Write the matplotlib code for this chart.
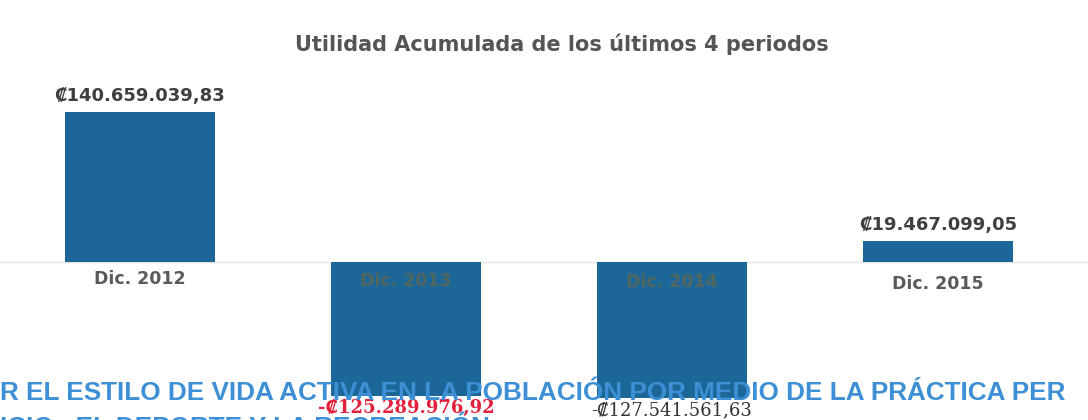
import matplotlib.pyplot as plt

# data (colones)
periodos = ["Dic. 2012", "Dic. 2013", "Dic. 2014", "Dic. 2015"]
utilidad = [140659039.83, -125289976.92, -127541561.63, 19467099.05]
etiquetas = ["₡140.659.039,83", "-₡125.289.976,92", "-₡127.541.561,63", "₡19.467.099,05"]

titulo = "Utilidad Acumulada de los últimos 4 periodos"
texto_pie = "R EL ESTILO DE VIDA ACTIVA EN LA POBLACIÓN POR MEDIO DE LA PRÁCTICA PER"
texto_pie2 = "ICIO,  EL DEPORTE Y LA RECREACIÓN"

bar_color = "#1c6797"

fig = plt.figure(figsize=(10.88, 4.2), dpi=100)
ax = fig.add_axes([0, 0, 1, 1])
vals = [v / 1e6 for v in utilidad]
x = list(range(len(periodos)))
ax.bar(x, vals, width=0.565, color=bar_color, zorder=2)
ax.axhline(0, color="#e6e6e6", lw=1, zorder=1)
ax.set_xlim(-0.526, 3.564)
ax.set_ylim(-148.2, 245.8)
ax.axis("off")

# value labels
for i, v in enumerate(vals):
    if v >= 0:
        ax.text(i, v + 15.5, etiquetas[i], ha="center", va="center",
                fontsize=13, fontweight="bold", color="#3f3f3f",
                family="DejaVu Sans")
    else:
        col = "#e3203b" if i == 1 else "#333333"
        ax.text(i, v - 11.5, etiquetas[i], ha="center", va="center",
                fontsize=13, fontweight="bold" if i == 1 else "normal",
                color=col, family=["DejaVu Serif", "DejaVu Sans"], zorder=4)

# category labels just below zero
for i, p in enumerate(periodos):
    inside = vals[i] < 0
    ax.text(i, -16 - 1.5 * i, p, ha="center", va="center", fontsize=12.5,
            fontweight="bold", color="#5f6650" if inside else "#5a5a5a",
            family="DejaVu Sans", zorder=3, alpha=0.8 if inside else 1)

fig.text(0.5165, 0.895, titulo, ha="center", va="center", fontsize=15,
         fontweight="bold", color="#555555", family="DejaVu Sans")

# overlaid text from the scanned page
pie_font = ["Liberation Sans", "DejaVu Sans"]
fig.text(0.0, 1 - 393 / 420, texto_pie, ha="left", va="center",
         fontsize=18.8, fontweight="bold", color="#3d8fd6",
         family=pie_font, zorder=3)
fig.text(0.0, 1 - 426 / 420, texto_pie2, ha="left", va="center",
         fontsize=18.8, fontweight="bold", color="#3d8fd6",
         family=pie_font)

fig.savefig("out.png", dpi=100)
